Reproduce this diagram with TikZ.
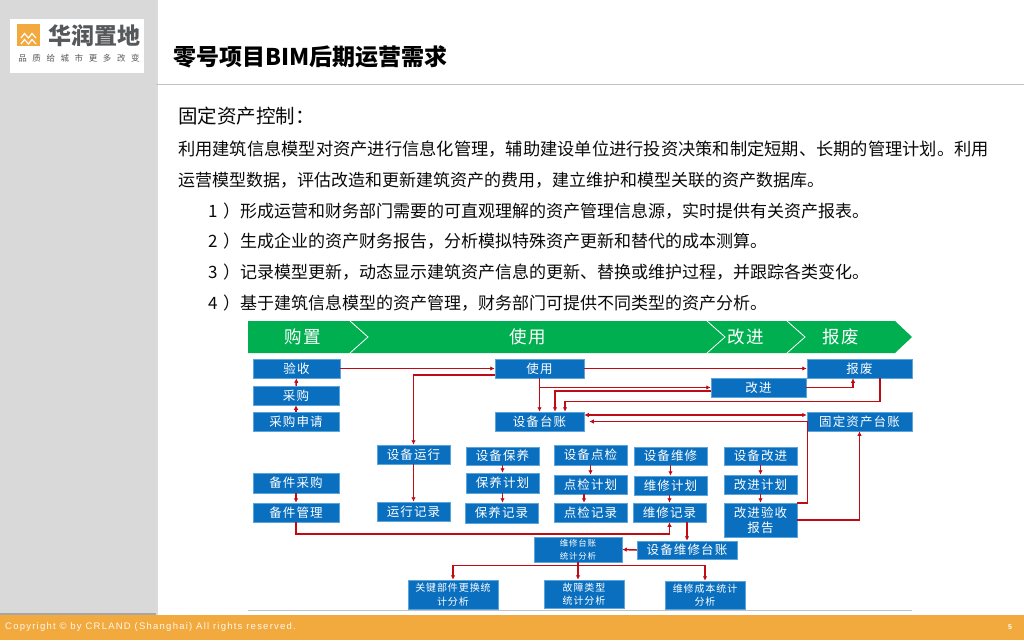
\documentclass[tikz,border=0pt]{standalone}
\usepackage{fontspec}
\usetikzlibrary{arrows.meta,calc}
\newfontfamily\cjk{Noto Sans CJK SC}
\newfontfamily\cjkbox[LetterSpace=9]{Noto Sans CJK SC}
\newfontfamily\cjksub[LetterSpace=66]{Noto Sans CJK SC}
\newfontfamily\foot[LetterSpace=13]{Liberation Sans}
\definecolor{boxblue}{HTML}{0A6FBF}
\definecolor{boxedge}{HTML}{5AA5DC}
\definecolor{flow}{HTML}{C00A14}
\definecolor{hdr}{HTML}{00B050}
\definecolor{band}{HTML}{F2A93E}
\definecolor{side}{HTML}{D9D9D9}
\definecolor{ink}{HTML}{0A0A0A}
\definecolor{logoink}{HTML}{55595C}
\definecolor{rule}{HTML}{BFC2C6}
\tikzset{
  bx/.style 2 args={draw=boxedge,line width=0.5pt,fill=boxblue,text=white,align=center,inner sep=0pt,
    minimum width=#1pt,minimum height=#2pt,font=\cjkbox\fontsize{12.5}{15}\selectfont},
  smalltext/.style={font=\cjkbox\fontsize{10}{13.5}\selectfont},
  tinytext/.style={font=\cjkbox\fontsize{8.5}{13}\selectfont},
  conn/.style={draw=flow,line width=1.5pt,-{Latex[length=4.5pt,width=4.5pt]}},
  body/.style={anchor=west,inner sep=0pt,text=ink,font=\cjk\fontsize{17}{20}\selectfont},
  widebody/.style={body,font=\cjk\fontsize{17.25}{20}\selectfont},
  phase/.style={text=white,inner sep=0pt,font=\cjkbox\fontsize{17.5}{20}\selectfont},
  chev/.style={draw=white,line width=0.8pt,line join=miter},
}
\begin{document}
\begin{tikzpicture}[x=1pt,y=-1pt]
\useasboundingbox (0,0) rectangle (1024,640);
\fill[white] (0,0) rectangle (1024,640);
% sidebar and footer
\fill[black!14] (156,0) rectangle (158,615);
\fill[side] (0,0) rectangle (156,613);
\fill[black!35] (0,613) rectangle (156,615);
\fill[band] (0,615) rectangle (1024,640);
\draw[rule,line width=1pt] (156,84) -- (1024,84);
\draw[rule,line width=1pt] (248,610) -- (912,610);
% logo
\fill[white] (10,19) rectangle (144,73);
\fill[band] (17,24) rectangle (40,46);
\foreach \yy in {38,44}{
  \draw[white,line width=1.2pt] (21,\yy) -- (24.5,\yy-4.5) -- (28.5,\yy) -- (32,\yy-4.5) -- (36,\yy);
}
\node[inner sep=0pt,text=logoink,font=\cjk\bfseries\fontsize{23}{25}\selectfont] (logotext) at (94,35.5) {华润置地};
\node[inner sep=0pt,text=logoink,font=\cjksub\fontsize{8.5}{10}\selectfont] (logosub) at (79,58) {品质给城市更多改变};
% title and text
\node[anchor=west,inner sep=0pt,text=black,font=\cjk\bfseries\fontsize{23}{26}\selectfont] (title) at (173,57) {零号项目BIM后期运营需求};
\node[anchor=west,inner sep=0pt,text=ink,font=\cjk\fontsize{19.5}{22}\selectfont] (head) at (178,116) {固定资产控制：};
\node[widebody] (l1) at (178,149) {利用建筑信息模型对资产进行信息化管理，辅助建设单位进行投资决策和制定短期、长期的管理计划。利用};
\node[body] (l2) at (178,180) {运营模型数据，评估改造和更新建筑资产的费用，建立维护和模型关联的资产数据库。};
\node[body] (i1) at (208,211) {1 \hspace{1.6pt}）形成运营和财务部门需要的可直观理解的资产管理信息源，实时提供有关资产报表。};
\node[body] (i2) at (208,241) {2 \hspace{1.6pt}）生成企业的资产财务报告，分析模拟特殊资产更新和替代的成本测算。};
\node[body] (i3) at (208,272) {3 \hspace{1.6pt}）记录模型更新，动态显示建筑资产信息的更新、替换或维护过程，并跟踪各类变化。};
\node[body] (i4) at (208,303) {4 \hspace{1.6pt}）基于建筑信息模型的资产管理，财务部门可提供不同类型的资产分析。};
% phase arrow
\fill[hdr] (248,321) -- (895,321) -- (912,337) -- (895,353) -- (248,353) -- cycle;
\draw[chev] (350,321) -- (368,337) -- (350,353);
\draw[chev] (707,321) -- (725,337) -- (707,353);
\draw[chev] (787,321) -- (805,337) -- (787,353);
\node[phase] (pa) at (303,337) {购置};
\node[phase] (pb) at (528,337) {使用};
\node[phase] (pc) at (746,337) {改进};
\node[phase] (pd) at (841,337) {报废};
% boxes
\node[bx={87}{19}] (yanshou) at (296.5,368.5) {验收};
\node[bx={86}{19}] (caigou) at (296,395.5) {采购};
\node[bx={86}{19}] (shenqing) at (296,421.5) {采购申请};
\node[bx={89}{19}] (shiyong) at (539.5,368.5) {使用};
\node[bx={89}{19}] (taizhang) at (539.5,421.5) {设备台账};
\node[bx={105}{19}] (baofei) at (859.5,368.5) {报废};
\node[bx={95}{19}] (gaijin) at (758.5,387.5) {改进};
\node[bx={105}{19}] (guding) at (859.5,421.5) {固定资产台账};
\node[bx={73}{19}] (yunxing) at (413.5,454.5) {设备运行};
\node[bx={73}{18}] (baoyang) at (502.5,456) {设备保养};
\node[bx={73}{20}] (dianjian) at (590.5,455) {设备点检};
\node[bx={73}{18}] (weixiu) at (670.5,456) {设备维修};
\node[bx={73}{18}] (gaijinb) at (760.5,456) {设备改进};
\node[bx={86}{20}] (bjcg) at (296,483) {备件采购};
\node[bx={86}{19}] (bjgl) at (296,512.5) {备件管理};
\node[bx={73}{19}] (yxjl) at (413.5,511.5) {运行记录};
\node[bx={73}{20}] (byjh) at (502.5,483) {保养计划};
\node[bx={73}{20}] (byjl) at (501.5,513) {保养记录};
\node[bx={73}{19}] (djjh) at (590.5,484.5) {点检计划};
\node[bx={73}{19}] (djjl) at (590.5,512.5) {点检记录};
\node[bx={73}{19}] (wxjh) at (670.5,485.5) {维修计划};
\node[bx={73}{19}] (wxjl) at (669.5,512.5) {维修记录};
\node[bx={73}{19}] (gjjh) at (760.5,484.5) {改进计划};
\node[bx={73}{34}] (baogao) at (760.5,520) {改进验收\\报告};
\node[bx={88}{25},tinytext] (tongji) at (578,549.5) {维修台账\\统计分析};
\node[bx={100}{18}] (wxtz) at (687,550) {设备维修台账};
\node[bx={90}{29},smalltext] (guanjian) at (453,594.5) {关键部件更换统\\计分析};
\node[bx={80}{28},smalltext] (guzhang) at (584,594) {故障类型\\统计分析};
\node[bx={80}{28},smalltext] (chengben) at (705,595) {维修成本统计\\分析};
% connectors
\draw[conn] (yanshou.east) -- (shiyong.west);
\draw[conn] (shiyong.east) -- (baofei.west);
\draw[conn] (caigou.north) -- (yanshou.south);
\draw[conn] (shenqing.north) -- (caigou.south);
\draw[conn] ([yshift=-6.5pt]shiyong.west) -| (yunxing.north);
\draw[conn] (shiyong.south) -- (taizhang.north);
\draw[conn] (shiyong.south) |- (gaijin.west);
\draw[conn] ([yshift=-3.5pt]gaijin.west) -| ([xshift=15.5pt]taizhang.north);
\draw[conn] ([xshift=20.5pt]baofei.south) -- ++(0,23) -| ([xshift=25.5pt]taizhang.north);
\draw[conn,line width=1.1pt] (gaijin.east) -| ([xshift=-6.5pt]baofei.south);
\draw[conn,{Latex[length=4.5pt,width=4.5pt]}-{Latex[length=4.5pt,width=4.5pt]}] ([yshift=6.5pt]taizhang.east) -- ([yshift=6.5pt]guding.west);
\draw[conn] (baogao.north east) -- ++(10,0) |- ([xshift=5pt]taizhang.east);
\draw[conn] (baogao.east) -| (guding.south);
\draw[conn] (yunxing.south) -- (yxjl.north);
\draw[conn] (bjcg.south) -- (bjgl.north);
\draw[conn] (baoyang.south) -- (byjh.north);
\draw[conn] (byjh.south) -- (byjh.south |- byjl.north);
\draw[conn] (dianjian.south) -- (djjh.north);
\draw[conn] ([xshift=-6.5pt]djjh.south) -- ([xshift=-6.5pt]djjl.north);
\draw[conn] (weixiu.south) -- (wxjh.north);
\draw[conn] ([xshift=-1pt]wxjh.south) -- ([xshift=-1pt]wxjh.south |- wxjl.north);
\draw[conn] (gaijinb.south) -- (gjjh.north);
\draw[conn] (gjjh.south) -- (baogao.north);
\draw[conn] (bjgl.south) -- ++(0,11.5) -| (wxjl.south);
\draw[conn] ([xshift=17.5pt]wxjl.south) -- ([xshift=17.5pt]wxjl.south |- wxtz.north);
\draw[conn] (wxtz.west) -- (tongji.east);
\draw[conn] (tongji.south) -- ++(0,3) -| (guanjian.north);
\draw[conn] (tongji.south) -- ++(0,3) -| (chengben.north);
\draw[conn] (tongji.south) -- (tongji.south |- guzhang.north);
% footer
\node[anchor=west,inner sep=0pt,text=white!92!band,font=\foot\fontsize{9.5}{11}\selectfont] (copy) at (5,627) {Copyright © by CRLAND (Shanghai) All rights reserved.};
\node[inner sep=0pt,text=white,font=\foot\bfseries\fontsize{7}{9}\selectfont] (page) at (1010,627) {5};
\end{tikzpicture}
\end{document}
